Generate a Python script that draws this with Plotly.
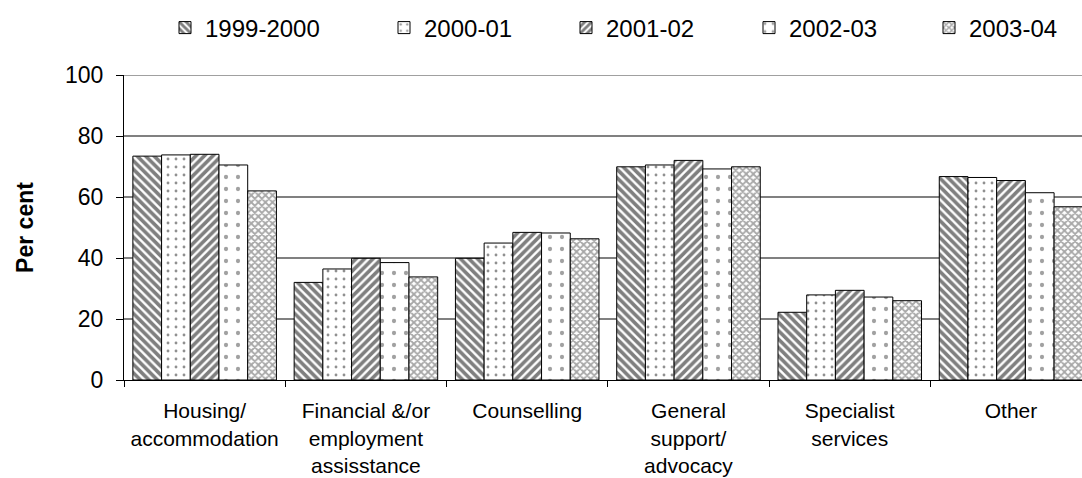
import plotly.graph_objects as go

# Services received by clients, per cent of clients, by year
categories = [
    "Housing/<br>accommodation",
    "Financial &/or<br>employment<br>assisstance",
    "Counselling",
    "General<br>support/<br>advocacy",
    "Specialist<br>services",
    "Other",
]
years = ["1999-2000", "2000-01", "2001-02", "2002-03", "2003-04"]

v_1999_2000 = [73.4, 32.0, 39.9, 69.9, 22.2, 66.7]
v_2000_01 = [73.8, 36.4, 44.9, 70.5, 27.9, 66.4]
v_2001_02 = [74.0, 39.9, 48.4, 72.0, 29.4, 65.4]
v_2002_03 = [70.5, 38.5, 48.2, 69.2, 27.2, 61.4]
v_2003_04 = [62.0, 33.8, 46.3, 69.9, 26.0, 56.8]

y_ticks = [0, 20, 40, 60, 80, 100]

series = [v_1999_2000, v_2000_01, v_2001_02, v_2002_03, v_2003_04]

# fill patterns for the five years (black & white print style)
patterns = [
    dict(shape="\\", fgcolor="black", bgcolor="white", size=6, solidity=0.6),
    dict(shape=".", fgcolor="#222222", bgcolor="white", size=8, solidity=0.1),
    dict(shape="/", fgcolor="black", bgcolor="white", size=6, solidity=0.6),
    dict(shape=".", fgcolor="#444444", bgcolor="white", size=12, solidity=0.1),
    dict(shape="x", fgcolor="#505050", bgcolor="white", size=5, solidity=0.6),
]

W, H = 1082, 478
legend_left = [165, 384, 566, 749, 929]

fig = go.Figure()
for i, (name, vals, pat) in enumerate(zip(years, series, patterns)):
    fig.add_trace(
        go.Bar(
            x=categories,
            y=vals,
            name=name,
            marker=dict(color="white", pattern=pat,
                        line=dict(color="black", width=1)),
            legend="legend" if i == 0 else f"legend{i + 1}",
        )
    )

font_family = "Liberation Sans, Arial, sans-serif"
layout_legends = {}
for i, xl in enumerate(legend_left):
    key = "legend" if i == 0 else f"legend{i + 1}"
    layout_legends[key] = dict(
        xref="container", yref="container",
        x=xl / W, xanchor="left",
        y=1 - 28 / H, yanchor="middle",
        orientation="h",
        font=dict(family=font_family, size=24, color="black"),
        bgcolor="rgba(0,0,0,0)",
    )

fig.update_layout(
    width=W, height=H,
    margin=dict(l=124, r=0, t=75, b=98),
    paper_bgcolor="white", plot_bgcolor="white",
    barmode="group", bargap=0.11, bargroupgap=0,
    font=dict(family=font_family, color="black"),
    showlegend=True,
    # gridline along the top of the value range
    shapes=[dict(type="line", xref="paper", yref="y", x0=0, x1=1,
                 y0=y_ticks[-1], y1=y_ticks[-1], layer="below",
                 line=dict(color="#808080", width=1.5))],
    **layout_legends,
)

fig.update_xaxes(
    type="category",
    range=[-0.5, 5.44],
    showline=True, linecolor="black", linewidth=1,
    ticks="outside", tickson="boundaries", ticklen=6, tickcolor="black",
    ticklabelstandoff=12,
    showgrid=False,
    tickfont=dict(family=font_family, size=21, color="black"),
)
fig.update_yaxes(
    range=[0, 100],
    tickvals=y_ticks,
    showline=True, linecolor="black", linewidth=1,
    ticks="outside", ticklen=7, tickcolor="black",
    ticklabelstandoff=8,
    showgrid=True, gridcolor="#808080", gridwidth=1.5,
    zeroline=False,
    tickfont=dict(family=font_family, size=23, color="black"),
    title=dict(text="<b>Per cent</b>", standoff=24,
               font=dict(family=font_family, size=23, color="black")),
)

fig.write_html("out.html")
